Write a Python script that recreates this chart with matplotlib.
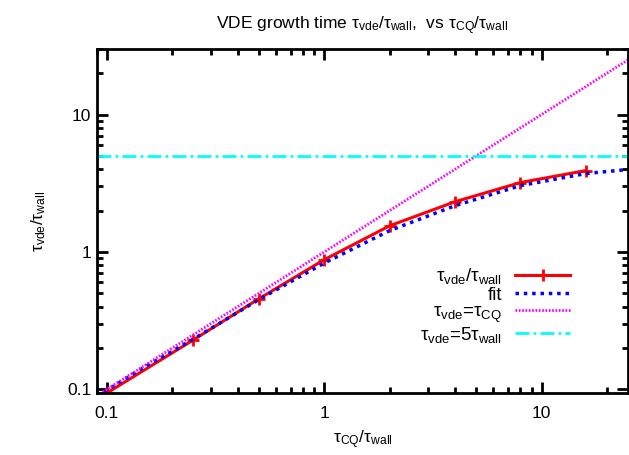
import numpy as np
import matplotlib
matplotlib.use('Agg')
import matplotlib.pyplot as plt

plt.rcParams['font.family'] = ['Liberation Sans', 'DejaVu Sans']
plt.rcParams['mathtext.fontset'] = 'custom'
plt.rcParams['mathtext.rm'] = 'Liberation Sans'
plt.rcParams['mathtext.it'] = 'Liberation Sans:italic'

# simulation points
tcq = [0.1, 0.25, 0.5, 1, 2, 4, 8, 16]
tvde = [0.094, 0.229, 0.456, 0.878, 1.55, 2.32, 3.20, 3.91]

# fit curve
fit_x = [0.09, 0.15, 0.25, 0.5, 1, 2, 4, 8, 16, 25]
fit_y = [0.089, 0.146, 0.232, 0.45, 0.83, 1.43, 2.17, 3.04, 3.72, 3.98]

# limits
line_x = [0.09, 25]
line_eq = [0.09, 25]
line_5 = [5, 5]

fig = plt.figure(figsize=(6.29, 4.55), dpi=100)
ax = fig.add_axes([97 / 629, 1 - 393 / 455, 531 / 629, 344 / 455])

ax.plot(tcq, tvde, color='red', lw=2.2, marker='+', ms=9, mew=2,
        label='τ$_{\\rm vde}$/τ$_{\\rm wall}$')
ax.plot(fit_x, fit_y, color='blue', lw=2.5, ls=(0, (1, 1.4)), label='fit')
ax.plot(line_x, line_eq, color='magenta', lw=2, ls=(0, (0.6, 0.6)),
        label='τ$_{\\rm vde}$=τ$_{\\rm CQ}$')
ax.plot(line_x, line_5, color='cyan', lw=2, ls=(0, (5, 1.5, 1, 1.5)),
        label='τ$_{\\rm vde}$=5τ$_{\\rm wall}$')

ax.set_xscale('log')
ax.set_yscale('log')
ax.set_xlim(0.09, 25)
ax.set_ylim(0.094, 30)
ax.set_xticks([0.1, 1, 10])
ax.set_xticklabels(['0.1', '1', '10'])
ax.set_yticks([0.1, 1, 10])
ax.set_yticklabels(['0.1', '1', '10'])

for s in ax.spines.values():
    s.set_linewidth(2)
ax.tick_params(which='both', direction='in', top=True, right=True, labelsize=12.5)
ax.tick_params(which='major', length=8, width=2)
ax.tick_params(which='minor', length=4, width=2)
ax.tick_params(axis='x', which='major', pad=9)
ax.tick_params(axis='y', which='major', pad=4)

ax.set_xlabel('τ$_{\\rm CQ}$/τ$_{\\rm wall}$', fontsize=12.5, labelpad=6)
ax.set_ylabel('τ$_{\\rm vde}$/τ$_{\\rm wall}$', fontsize=12.5, labelpad=14)
ax.set_title('VDE growth time τ$_{\\rm vde}$/τ$_{\\rm wall}$,  vs τ$_{\\rm CQ}$/τ$_{\\rm wall}$',
             fontsize=12.5, pad=14)

ax.legend(loc='upper right', bbox_to_anchor=(0.908, 0.395), frameon=False,
          markerfirst=False, fontsize=13.5, handlelength=2.9,
          labelspacing=0.0, borderpad=0, handletextpad=0.7)

fig.savefig('out.png', dpi=100)
